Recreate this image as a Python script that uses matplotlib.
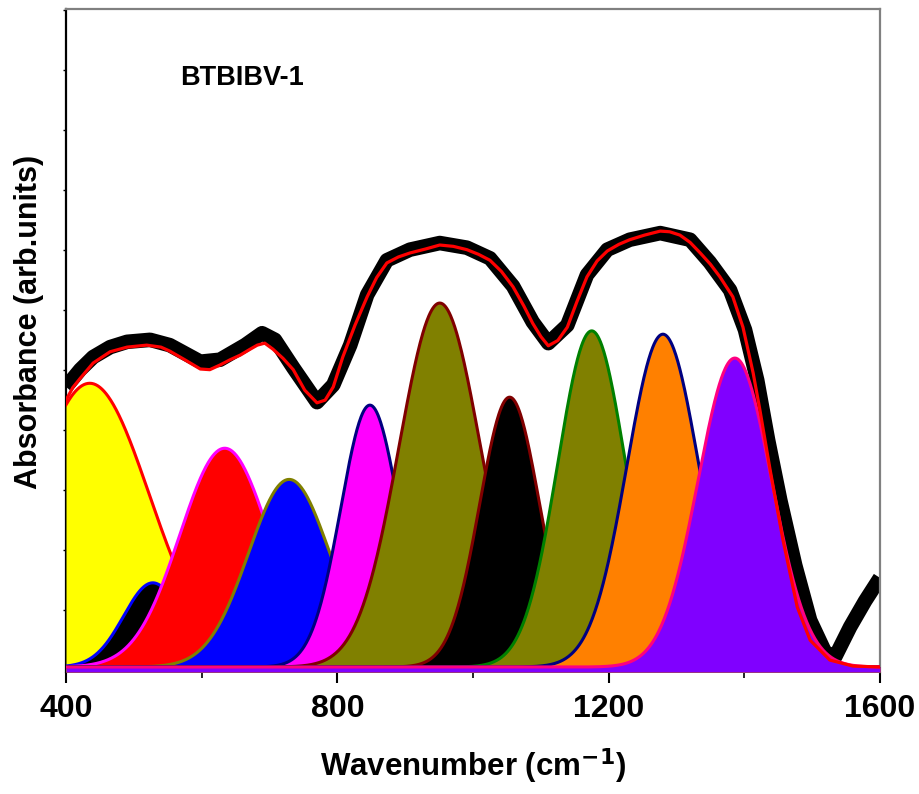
import numpy as np
import matplotlib
matplotlib.use("Agg")
import matplotlib.pyplot as plt
from matplotlib.ticker import FixedLocator

# measured spectrum (wavenumber, absorbance)
exp_wn = [400, 421, 440, 465, 490, 524, 553, 598, 627, 664, 689, 708, 735, 770,
          794, 819, 844, 873, 907, 951, 991, 1025, 1059, 1088, 1111, 1139, 1168,
          1198, 1231, 1276, 1320, 1349, 1379, 1401, 1419, 1435, 1453, 1475, 1497,
          1519, 1534, 1556, 1578, 1600]
exp_abs = [43.0, 45.6, 47.5, 49.0, 49.8, 50.1, 49.3, 46.8, 47.1, 49.3, 51.1, 50.1,
           45.9, 40.7, 43.3, 49.3, 56.9, 62.1, 63.7, 64.7, 64.0, 62.4, 58.2, 52.8,
           49.6, 52.3, 59.9, 63.7, 65.2, 66.2, 65.2, 61.8, 57.6, 51.6, 44.0, 35.0,
           25.9, 16.1, 7.8, 3.0, 2.3, 6.8, 10.7, 14.2]

# cumulative fit
fit_wn = [400, 410, 421, 440, 465, 490, 519, 540, 553, 575, 598, 612, 627, 642,
          657, 670, 682, 693, 705, 720, 735, 752, 770, 782, 794, 808, 826, 844,
          858, 873, 890, 907, 930, 951, 971, 991, 1008, 1025, 1042, 1059, 1075,
          1088, 1100, 1111, 1125, 1139, 1153, 1168, 1183, 1198, 1215, 1231, 1253,
          1276, 1290, 1305, 1320, 1335, 1350, 1364, 1383, 1398, 1413, 1423, 1438,
          1457, 1478, 1497, 1526, 1560, 1600]
fit_abs = [41.0, 42.9, 44.3, 46.6, 48.3, 49.0, 49.3, 49.0, 48.4, 47.1, 45.7, 45.6,
           46.3, 47.1, 47.8, 48.6, 49.3, 49.6, 48.7, 47.3, 45.6, 42.5, 40.6, 41.0,
           43.0, 47.5, 52.3, 56.6, 59.5, 61.7, 62.6, 63.2, 63.8, 64.4, 64.2, 63.7,
           63.0, 62.1, 60.4, 58.1, 55.2, 52.6, 50.6, 49.2, 50.0, 52.0, 55.8, 59.6,
           62.0, 63.5, 64.5, 65.2, 65.9, 66.5, 66.4, 65.9, 64.8, 63.2, 61.5, 59.6,
           56.6, 52.0, 45.1, 39.5, 30.5, 19.9, 9.8, 4.8, 1.8, 0.9, 0.75]

# gaussian components: centre, height, sigma (cm-1)
pk_center = [435, 528, 634, 729, 848, 951, 1054, 1175, 1280, 1386]
pk_height = [42.8, 12.7, 33.0, 28.3, 39.5, 54.9, 40.7, 50.7, 50.2, 46.6]
pk_sigma = [88, 43, 66, 60, 43, 60, 44, 50, 53, 54]
pk_fill = ['#FFFF00', '#000000', '#FF0000', '#0000FF', '#FF00FF',
           '#808000', '#000000', '#808000', '#FF8000', '#8000FF']
pk_edge = ['#FF0000', '#0000FF', '#FF00FF', '#808000', '#000080',
           '#800000', '#800000', '#008000', '#000080', '#FF0080']
baseline = 0.75

fig = plt.figure(figsize=(9.2, 7.94), dpi=100)
ax = fig.add_axes([66 / 920, 1 - 672 / 794, 814 / 920, 663 / 794])

ax.plot(exp_wn, exp_abs, color='black', lw=10.5, solid_joinstyle='round',
        solid_capstyle='butt', zorder=2)

wn = np.linspace(400, 1600, 1201)
for i in range(len(pk_center)):
    g = baseline + pk_height[i] * np.exp(-(wn - pk_center[i]) ** 2 / (2 * pk_sigma[i] ** 2))
    ax.fill_between(wn, 0, g, color=pk_fill[i], lw=0, zorder=3 + i * 0.1)
    ax.plot(wn, g, color=pk_edge[i], lw=2.2, zorder=3.05 + i * 0.1)

ax.plot(fit_wn, fit_abs, color='#FF0000', lw=2.3, solid_joinstyle='round', zorder=5)

ax.set_xlim(400, 1600)
ax.set_ylim(0, 100)

ax.xaxis.set_major_locator(FixedLocator([400, 800, 1200, 1600]))
ax.xaxis.set_minor_locator(FixedLocator([600, 1000, 1400]))
ax.yaxis.set_major_locator(FixedLocator(np.arange(9.35, 100, 9.05)))
ax.tick_params(axis='x', which='major', direction='out', length=8, width=1.5,
               pad=8, top=False)
ax.tick_params(axis='x', which='minor', direction='out', length=4, width=1.2, top=False)
ax.tick_params(axis='y', which='major', direction='out', length=2, width=1,
               labelleft=False, right=False)

for lab in ax.get_xticklabels():
    lab.set_family('Liberation Sans')
    lab.set_weight('bold')
    lab.set_size(23)

ax.set_xlabel('Wavenumber (cm$^{\\mathbf{-1}}$)', family='Liberation Sans',
              weight='bold', size=22.5)
ax.xaxis.set_label_coords(0.5, -0.112)
ax.set_ylabel('Absorbance (arb.units)', family='Liberation Sans', weight='bold',
              size=22)
ax.yaxis.set_label_coords(-0.027, 0.528)

ax.text(0.14, 0.896, 'BTBIBV-1', transform=ax.transAxes, family='Liberation Sans',
        weight='bold', size=19.5, ha='left', va='center')

ax.spines['left'].set_linewidth(1.6)
ax.spines['left'].set_color('black')
for s in ('top', 'right'):
    ax.spines[s].set_color('#808080')
    ax.spines[s].set_linewidth(1.6)
ax.spines['bottom'].set_linewidth(1.2)
ax.spines['bottom'].set_zorder(1)

fig.savefig('out.png', dpi=100)
